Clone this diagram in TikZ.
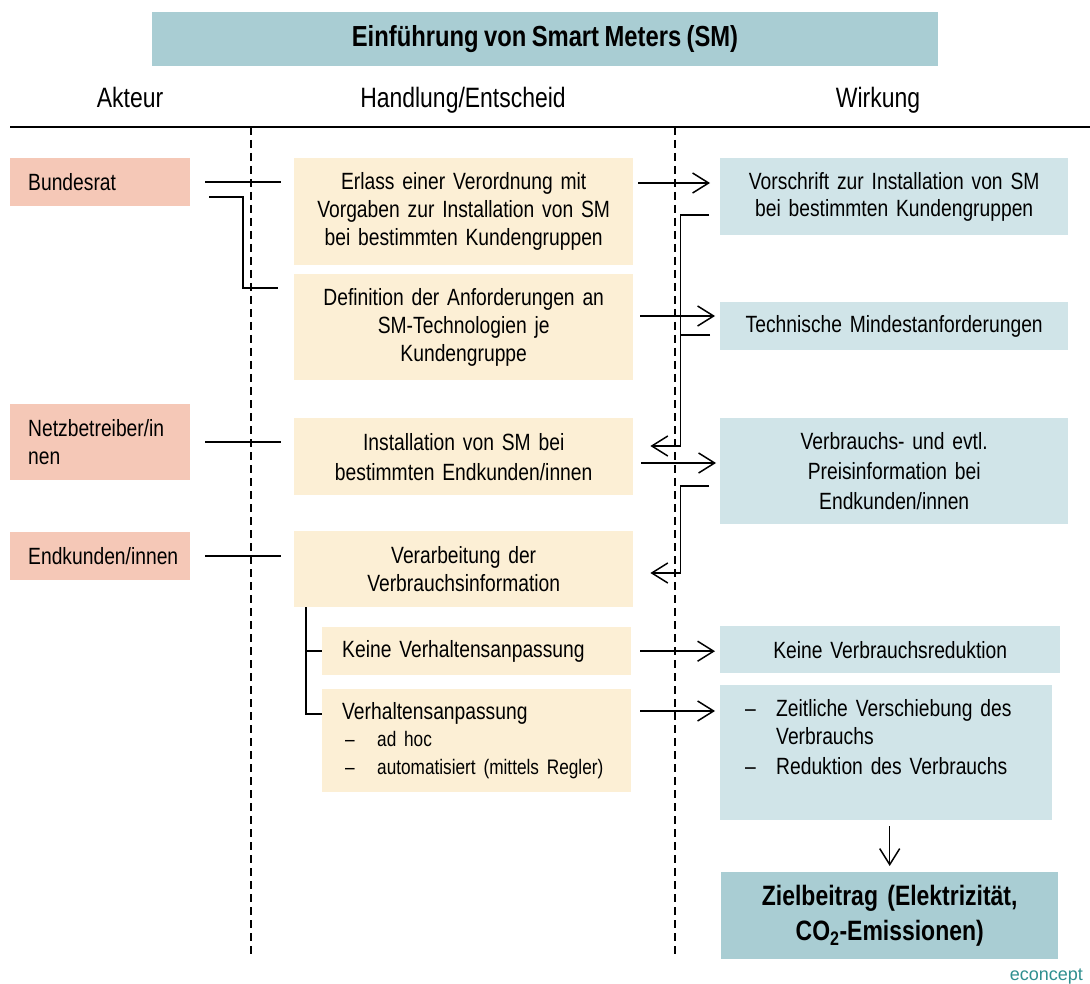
\documentclass[tikz,border=0pt]{standalone}
\usepackage{fontspec}
\setmainfont{Liberation Sans}[FakeStretch=0.82,WordSpace=0.82]
\newfontfamily\logofont{Liberation Sans}
\usetikzlibrary{arrows.meta,calc}
\definecolor{akteurfill}{HTML}{F5C8B7}
\definecolor{handfill}{HTML}{FCEFD5}
\definecolor{wirkfill}{HTML}{D0E4E8}
\definecolor{titlefill}{HTML}{A9CDD3}
\definecolor{logoteal}{HTML}{2F8F8F}
\newcommand{\subfont}{\fontsize{21}{27}\selectfont}
\begin{document}
\begin{tikzpicture}[x=1pt,y=-1pt,
  box/.style={anchor=north west,inner sep=0pt,font=\fontsize{23.5}{28}\selectfont},
  akteur/.style={box,fill=akteurfill,minimum width=180pt,text width=144pt,align=left},
  hand/.style={box,fill=handfill,minimum width=339pt,text width=330pt,align=center},
  subhand/.style={box,fill=handfill,minimum width=309pt,text width=269pt,align=left},
  wirk/.style={box,fill=wirkfill,minimum width=348pt,text width=340pt,align=center},
  ziel/.style={box,fill=titlefill,minimum width=337pt,minimum height=87pt,text width=330pt,align=center,font=\bfseries\fontsize{28}{35}\selectfont},
  head/.style={anchor=base,inner sep=0pt,font=\fontsize{28}{32}\selectfont},
  link/.style={line width=1.5pt},
  arr/.style={line width=1.5pt,-{Straight Barb[length=16pt,width=20pt,line width=1.5pt]}},
  sep/.style={line width=1.6pt,dash pattern=on 8pt off 5pt}]
\useasboundingbox (0,0) rectangle (1090,984);
\node[fill=titlefill,minimum width=786pt,minimum height=54pt,inner sep=0pt,font=\bfseries\fontsize{29}{34}\selectfont] (title) at (545,39) {Einführung von Smart Meters (SM)};
\node[head] (hakteur) at (130,108) {Akteur};
\node[head] (hhand) at (463,108) {Handlung/Entscheid};
\node[head] (hwirk) at (878,108) {Wirkung};
\draw[line width=2pt] (10,127) -- (1090,127);
\draw[sep] (251,127) -- (251,958);
\draw[sep] (675,127) -- (675,958);

\node[akteur,minimum height=48pt] (bund) at (10,158) {Bundesrat};
\node[akteur,minimum height=76pt] (netz) at (10,404) {Netzbetreiber/in\\nen};
\node[akteur,minimum height=48pt] (endk) at (10,532) {Endkunden/innen};

\node[hand,minimum height=107pt] (erlass) at (294,158) {Erlass einer Verordnung mit\\Vorgaben zur Installation von SM\\bei bestimmten Kundengruppen};
\node[hand,minimum height=106pt] (defin) at (294,274) {Definition der Anforderungen an\\SM-Technologien je\\Kundengruppe};
\node[hand,minimum height=77pt,font=\fontsize{23.5}{30}\selectfont] (install) at (294,418) {Installation von SM bei\\bestimmten Endkunden/innen};
\node[hand,minimum height=76pt] (verarb) at (294,531) {Verarbeitung der\\Verbrauchsinformation};
\node[subhand,minimum height=48pt] (keine) at (322,627) {Keine Verhaltensanpassung};
\node[subhand,minimum height=103pt] (anpass) at (322,689) {Verhaltensanpassung\\
  \subfont\hspace*{3pt}\makebox[32pt][l]{--}ad hoc\\
  \subfont\hspace*{3pt}\makebox[32pt][l]{--}automatisiert (mittels Regler)};

\node[wirk,minimum height=77pt,font=\fontsize{23.5}{27}\selectfont] (vorschr) at (720,158) {Vorschrift zur Installation von SM\\bei bestimmten Kundengruppen};
\node[wirk,minimum height=48pt] (techn) at (720,302) {Technische Mindestanforderungen};
\node[wirk,minimum height=106pt,font=\fontsize{23.5}{30}\selectfont] (preis) at (720,418) {Verbrauchs- und evtl.\\Preisinformation bei\\Endkunden/innen};
\node[wirk,minimum width=332pt,minimum height=47pt] (keinred) at (720,626) {Keine Verbrauchsreduktion};
\node[wirk,minimum width=332pt,text width=300pt,inner ysep=8pt] (redukt) at (720,685) {\parbox[c][119pt][t]{300pt}{\vspace*{6pt}%
  \hspace*{9pt}\makebox[31pt][l]{--}Zeitliche Verschiebung des\\
  \hspace*{40pt}Verbrauchs\\[2pt]
  \hspace*{9pt}\makebox[31pt][l]{--}Reduktion des Verbrauchs}};
\node[ziel] (ziel) at (721,872) {Zielbeitrag (Elektrizität,\\CO\textsubscript{2}-Emissionen)};
\node[anchor=base east,inner sep=0pt,text=logoteal,font=\logofont\fontsize{18}{20}\selectfont] (logo) at (1083,980) {econcept};

\draw[link,shorten <=15pt,shorten >=13pt] (bund.east) -- (erlass.west |- bund.east);
\draw[link] ($(bund.east)+(19,15)$) -| ($(defin.north west)+(-51,14)$) -- ($(defin.north west)+(-16,14)$);
\draw[link,shorten <=15pt,shorten >=13pt] (netz.east) -- (install.west |- netz.east);
\draw[link,shorten <=15pt,shorten >=13pt] (endk.east) -- (verarb.west |- endk.east);

\draw[arr] ($(erlass.north east)+(5,25)$) -- ($(vorschr.north west)+(-10,25)$);
\draw[arr] ($(defin.north east)+(7,42)$) -- ($(techn.north west)+(-5,14)$);
\draw[arr] ($(install.north east)+(8,45)$) -- ($(preis.north west)+(-4,45)$);
\draw[arr] ($(keine.east)+(9,0)$) -- ($(keinred.west |- keine.east)+(-5,0)$);
\draw[arr] ($(anpass.north east)+(9,22)$) -- ($(redukt.north west)+(-5,26)$);
\draw[arr,shorten <=6pt,shorten >=6pt] (ziel.north |- redukt.south) -- (ziel.north);

\draw[arr] ($(vorschr.north west)+(-11,57)$) -| ($(install.north east)+(47,28)$) -- ($(install.north east)+(17,28)$);
\draw[link] ($(techn.north west)+(-10,33)$) -- ($(techn.north west)+(-40,33)$);
\draw[arr] ($(preis.north west)+(-11,68)$) -| ($(verarb.north east)+(47,42)$) -- ($(verarb.north east)+(17,42)$);

\coordinate (trunk) at ($(verarb.south west)+(12,0)$);
\draw[link] (trunk) |- ($(anpass.north west)+(0,25)$);
\draw[link] (trunk |- keine.west) -- (keine.west);
\end{tikzpicture}
\end{document}
